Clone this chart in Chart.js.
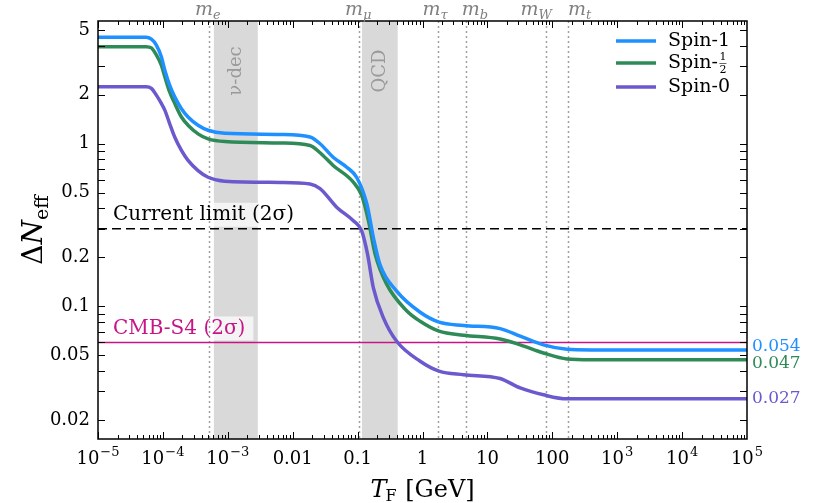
<!DOCTYPE html>
<html lang="en">
<head>
  <meta charset="UTF-8" />
  <title>Delta N_eff vs T_F</title>
  <script src="https://cdn.jsdelivr.net/npm/chart.js"></script>
  <style>
    body { margin: 0; background: #fff; }
    #wrap { width: 816px; height: 503px; }
  </style>
</head>
<body>
  <div id="wrap"><canvas id="neffChart"></canvas></div>

  <script>
    // values
    const tSpin1 = [1e-5, 5.5e-5, 6.64e-5, 7.93e-5, 9.46e-5, 1.07e-4, 1.27e-4, 1.52e-4, 1.93e-4, 2.44e-4, 3.48e-4, 4.97e-4, 8.97e-4, 6.4e-3, 0.0185, 0.0264, 0.042, 0.068, 0.097, 0.139, 0.175, 0.222, 0.40, 0.92, 1.8, 4.3, 15.7, 32, 73, 168, 400, 1e5];
    const nSpin1 = [4.51, 4.51, 4.39, 4.04, 3.42, 2.83, 2.29, 1.94, 1.64, 1.46, 1.30, 1.21, 1.16, 1.14, 1.10, 1.0, 0.826, 0.717, 0.62, 0.426, 0.265, 0.18, 0.124, 0.092, 0.080, 0.0763, 0.073, 0.0656, 0.058, 0.0545, 0.054, 0.054];

    const tSpinHalf = [1e-5, 5.5e-5, 6.64e-5, 7.93e-5, 9.46e-5, 1.07e-4, 1.27e-4, 1.52e-4, 1.93e-4, 2.44e-4, 3.48e-4, 4.97e-4, 8.97e-4, 6.4e-3, 0.0185, 0.0264, 0.042, 0.086, 0.116, 0.147, 0.186, 0.28, 0.57, 0.92, 1.8, 4.3, 15.7, 32, 73, 168, 400, 1e5];
    const nSpinHalf = [3.95, 3.95, 3.88, 3.51, 3.04, 2.58, 2.08, 1.77, 1.46, 1.30, 1.15, 1.07, 1.03, 1.01, 0.976, 0.88, 0.735, 0.58, 0.48, 0.336, 0.21, 0.137, 0.094, 0.081, 0.0704, 0.0665, 0.063, 0.058, 0.0517, 0.0475, 0.047, 0.047];

    const tSpin0 = [1e-5, 5.5e-5, 6.64e-5, 7.93e-5, 9.46e-5, 1.07e-4, 1.27e-4, 1.52e-4, 1.93e-4, 2.44e-4, 3.48e-4, 4.97e-4, 8.97e-4, 6.4e-3, 0.0185, 0.0264, 0.048, 0.086, 0.116, 0.142, 0.175, 0.25, 0.40, 0.92, 1.8, 4.3, 15.7, 32, 73, 168, 400, 1e5];
    const nSpin0 = [2.24, 2.24, 2.19, 1.99, 1.77, 1.61, 1.33, 1.10, 0.91, 0.79, 0.684, 0.622, 0.588, 0.578, 0.566, 0.53, 0.406, 0.336, 0.29, 0.21, 0.13, 0.085, 0.061, 0.046, 0.040, 0.038, 0.036, 0.0315, 0.0286, 0.027, 0.027, 0.027];

    const finalValues = ['0.054', '0.047', '0.027'];
    const currentLimit = 0.3;
    const cmbS4 = 0.06;

    // particle masses in GeV (top labels) and shaded bands
    const massNames = ['e', 'μ', 'τ', 'b', 'W', 't'];
    const massValues = [5.11e-4, 0.1057, 1.74, 4.66, 80.4, 172.7];
    const bandNames = ['ν-dec', 'QCD'];
    const bandLo = [6.1e-4, 0.117];
    const bandHi = [2.9e-3, 0.415];

    const xTicks = [1e-5, 1e-4, 1e-3, 0.01, 0.1, 1, 10, 100, 1e3, 1e4, 1e5];
    const xTickBase = ['10', '10', '10', '0.01', '0.1', '1', '10', '100', '10', '10', '10'];
    const xTickExp = ['−5', '−4', '−3', '', '', '', '', '', '3', '4', '5'];
    const yTicks = [0.02, 0.05, 0.1, 0.2, 0.5, 1, 2, 5];
    const yTickLabels = ['0.02', '0.05', '0.1', '0.2', '0.5', '1', '2', '5'];

    const BLUE = '#1e90ff', GREEN = '#2e8b57', PURPLE = '#6a5acd', MAGENTA = '#c71585';
    const SERIF = '"DejaVu Serif", serif';

    const pts = (ts, vs) => ts.map((t, i) => ({ x: t, y: vs[i] }));
    const flat = v => [{ x: 1e-5, y: v }, { x: 1e5, y: v }];

    const deco = {
      id: 'deco',
      beforeDatasetsDraw(chart) {
        const { ctx, chartArea: a, scales: { x, y } } = chart;
        ctx.save();
        ctx.beginPath();
        ctx.rect(a.left, a.top, a.width, a.height);
        ctx.clip();

        // shaded bands
        ctx.fillStyle = '#d9d9d9';
        bandLo.forEach((lo, i) => {
          const x0 = x.getPixelForValue(lo), x1 = x.getPixelForValue(bandHi[i]);
          ctx.fillRect(x0, a.top, x1 - x0, a.height);
        });
        ctx.fillStyle = '#9a9a9a';
        ctx.font = '18px ' + SERIF;
        ctx.textAlign = 'center';
        ctx.textBaseline = 'middle';
        bandNames.forEach((name, i) => {
          const xc = (x.getPixelForValue(bandLo[i]) + x.getPixelForValue(bandHi[i])) / 2;
          ctx.save();
          ctx.translate(xc, a.top + 50);
          ctx.rotate(-Math.PI / 2);
          ctx.fillText(name, 0, 0);
          ctx.restore();
        });

        // label boxes
        ctx.font = '20px ' + SERIF;
        const labels = [
          { text: 'Current limit (2σ)', v: currentLimit, color: '#000' },
          { text: 'CMB-S4 (2σ)', v: cmbS4, color: MAGENTA }
        ];
        labels.forEach(l => {
          const w = ctx.measureText(l.text).width;
          const yl = y.getPixelForValue(l.v);
          ctx.fillStyle = 'rgba(255,255,255,0.7)';
          ctx.fillRect(a.left + 7, yl - 26, w + 16, 24);
        });

        // dotted mass lines
        ctx.strokeStyle = '#a0a0a0';
        ctx.lineWidth = 1.5;
        ctx.setLineDash([2, 3]);
        massValues.forEach(m => {
          const xm = Math.round(x.getPixelForValue(m)) + 0.5;
          ctx.beginPath();
          ctx.moveTo(xm, a.top);
          ctx.lineTo(xm, a.bottom);
          ctx.stroke();
        });
        ctx.setLineDash([]);

        ctx.textAlign = 'left';
        ctx.textBaseline = 'middle';
        labels.forEach(l => {
          ctx.fillStyle = l.color;
          ctx.fillText(l.text, a.left + 15, y.getPixelForValue(l.v) - 14);
        });
        ctx.restore();
      },
      afterDraw(chart) {
        const { ctx, chartArea: a, scales: { x, y } } = chart;
        ctx.save();

        // ticks pointing inward on all sides
        ctx.strokeStyle = '#000';
        ctx.lineWidth = 1;
        for (let d = -5; d <= 4; d++) {
          for (let m = 1; m <= 9; m++) {
            const v = m * Math.pow(10, d);
            const px = Math.round(x.getPixelForValue(v)) + 0.5;
            const len = m === 1 ? 7 : 4;
            ctx.beginPath();
            ctx.moveTo(px, a.bottom); ctx.lineTo(px, a.bottom - len);
            ctx.moveTo(px, a.top); ctx.lineTo(px, a.top + len);
            ctx.stroke();
          }
        }
        for (let d = -2; d <= 0; d++) {
          for (let m = 1; m <= 9; m++) {
            const v = m * Math.pow(10, d);
            if (v < y.min || v > y.max) continue;
            const py = Math.round(y.getPixelForValue(v)) + 0.5;
            ctx.beginPath();
            ctx.moveTo(a.left, py); ctx.lineTo(a.left + 7, py);
            ctx.moveTo(a.right, py); ctx.lineTo(a.right - 7, py);
            ctx.stroke();
          }
        }

        // frame
        ctx.lineWidth = 1.5;
        ctx.strokeRect(a.left, a.top, a.width, a.height);

        // x tick labels with raised exponents
        ctx.fillStyle = '#000';
        ctx.textBaseline = 'alphabetic';
        ctx.textAlign = 'left';
        xTicks.forEach((v, i) => {
          ctx.font = '18px ' + SERIF;
          const wb = ctx.measureText(xTickBase[i]).width;
          ctx.font = '13px ' + SERIF;
          const we = xTickExp[i] ? ctx.measureText(xTickExp[i]).width + 1 : 0;
          const x0 = x.getPixelForValue(v) - (wb + we) / 2;
          ctx.font = '18px ' + SERIF;
          ctx.fillText(xTickBase[i], x0, 464);
          if (xTickExp[i]) {
            ctx.font = '13px ' + SERIF;
            ctx.fillText(xTickExp[i], x0 + wb + 1, 456);
          }
        });

        // mass labels on top
        const massShift = [-1, -1, -3, 9, -10, 12];
        ctx.fillStyle = '#808080';
        massNames.forEach((n, i) => {
          ctx.font = 'italic 19px ' + SERIF;
          const wm = ctx.measureText('m').width;
          ctx.font = 'italic 13px ' + SERIF;
          const ws = ctx.measureText(n).width;
          const x0 = x.getPixelForValue(massValues[i]) + massShift[i] - (wm + ws) / 2;
          ctx.font = 'italic 19px ' + SERIF;
          ctx.fillText('m', x0, 15);
          ctx.font = 'italic 13px ' + SERIF;
          ctx.fillText(n, x0 + wm, 19);
        });

        // final values on the right
        ctx.font = '17px ' + SERIF;
        ctx.textBaseline = 'middle';
        const finalY = [347, 364, 399];
        [BLUE, GREEN, PURPLE].forEach((c, i) => {
          ctx.fillStyle = c;
          ctx.fillText(finalValues[i], a.right + 5, finalY[i]);
        });

        // legend
        const legY = [41, 63, 87];
        [BLUE, GREEN, PURPLE].forEach((c, i) => {
          ctx.strokeStyle = c;
          ctx.lineWidth = 3.5;
          ctx.beginPath();
          ctx.moveTo(616, legY[i]); ctx.lineTo(656, legY[i]);
          ctx.stroke();
        });
        ctx.fillStyle = '#000';
        ctx.font = '19px ' + SERIF;
        ctx.fillText('Spin-1', 668, legY[0]);
        ctx.fillText('Spin-', 668, legY[1]);
        const wSpin = ctx.measureText('Spin-').width;
        ctx.font = '11px ' + SERIF;
        ctx.textAlign = 'center';
        const fx = 668 + wSpin + 5;
        ctx.fillText('1', fx, legY[1] - 6);
        ctx.fillText('2', fx, legY[1] + 7);
        ctx.lineWidth = 0.6;
        ctx.strokeStyle = '#000';
        ctx.beginPath();
        ctx.moveTo(fx - 3.5, legY[1] + 0.5); ctx.lineTo(fx + 3.5, legY[1] + 0.5);
        ctx.stroke();
        ctx.textAlign = 'left';
        ctx.font = '19px ' + SERIF;
        ctx.fillText('Spin-0', 668, legY[2]);

        // axis titles
        ctx.save();
        ctx.translate(32, (a.top + a.bottom) / 2);
        ctx.rotate(-Math.PI / 2);
        ctx.font = '28px ' + SERIF;
        const wD = ctx.measureText('Δ').width;
        ctx.font = 'italic 28px ' + SERIF;
        const wN = ctx.measureText('N').width;
        ctx.font = '19px ' + SERIF;
        const wE = ctx.measureText('eff').width;
        const sx = -(wD + wN + wE) / 2;
        ctx.textBaseline = 'alphabetic';
        ctx.font = '28px ' + SERIF;
        ctx.fillText('Δ', sx, 10);
        ctx.font = 'italic 28px ' + SERIF;
        ctx.fillText('N', sx + wD, 10);
        ctx.font = '19px ' + SERIF;
        ctx.fillText('eff', sx + wD + wN, 16);
        ctx.restore();

        ctx.textBaseline = 'alphabetic';
        ctx.font = 'italic 24px ' + SERIF;
        const wT = ctx.measureText('T').width;
        ctx.font = '16px ' + SERIF;
        const wF = ctx.measureText('F').width;
        ctx.font = '24px ' + SERIF;
        const wG = ctx.measureText(' [GeV]').width;
        const tx = (a.left + a.right) / 2 - (wT + wF + wG) / 2;
        ctx.font = 'italic 24px ' + SERIF;
        ctx.fillText('T', tx, 497);
        ctx.font = '16px ' + SERIF;
        ctx.fillText('F', tx + wT - 1, 501);
        ctx.font = '24px ' + SERIF;
        ctx.fillText(' [GeV]', tx + wT + wF, 497);

        ctx.restore();
      }
    };

    const ctx = document.getElementById('neffChart').getContext('2d');
    new Chart(ctx, {
      type: 'line',
      data: {
        datasets: [
          { label: 'Spin-1', data: pts(tSpin1, nSpin1), borderColor: BLUE, borderWidth: 3.5 },
          { label: 'Spin-1/2', data: pts(tSpinHalf, nSpinHalf), borderColor: GREEN, borderWidth: 3.5 },
          { label: 'Spin-0', data: pts(tSpin0, nSpin0), borderColor: PURPLE, borderWidth: 3.5 },
          { label: 'Current limit', data: flat(currentLimit), borderColor: '#000', borderWidth: 1.5, borderDash: [9, 5] },
          { label: 'CMB-S4', data: flat(cmbS4), borderColor: MAGENTA, borderWidth: 1.5 }
        ]
      },
      options: {
        responsive: true,
        maintainAspectRatio: false,
        animation: false,
        elements: { point: { radius: 0 }, line: { cubicInterpolationMode: 'monotone' } },
        layout: { padding: { top: 21, right: 69, left: 0, bottom: 0 } },
        plugins: { legend: { display: false }, tooltip: { enabled: false } },
        scales: {
          x: {
            type: 'logarithmic',
            min: 1e-5,
            max: 1e5,
            grid: { display: false, drawTicks: false },
            border: { display: false },
            afterBuildTicks: s => { s.ticks = xTicks.map(v => ({ value: v })); },
            afterFit: s => { s.height = 64; },
            ticks: { display: false }
          },
          y: {
            type: 'logarithmic',
            min: 0.0153,
            max: 5.68,
            grid: { display: false, drawTicks: false },
            border: { display: false },
            afterBuildTicks: s => { s.ticks = yTicks.map(v => ({ value: v })); },
            afterFit: s => { s.width = 98; },
            ticks: {
              autoSkip: false,
              padding: 8,
              color: '#000',
              font: { family: 'DejaVu Serif', size: 18 },
              callback: (v, i) => yTickLabels[i]
            }
          }
        }
      },
      plugins: [deco]
    });
  </script>
</body>
</html>
